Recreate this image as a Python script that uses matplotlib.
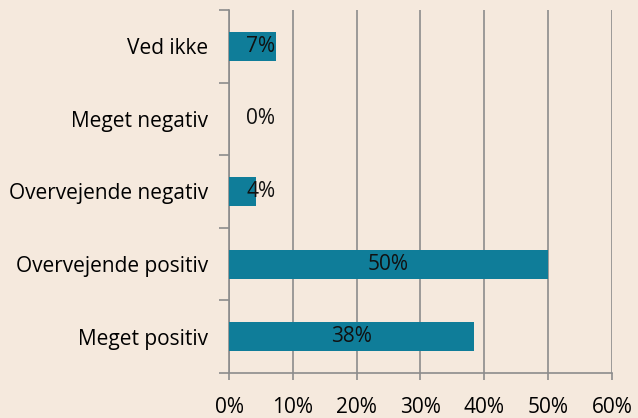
import matplotlib
matplotlib.use("Agg")
import matplotlib.pyplot as plt
from matplotlib.ticker import FixedLocator

categories = ["Meget positiv", "Overvejende positiv", "Overvejende negativ", "Meget negativ", "Ved ikke"]
values = [38.4, 50.0, 4.2, 0.0, 7.3]
labels = ["38%", "50%", "4%", "0%", "7%"]
xticks = [0, 10, 20, 30, 40, 50, 60]

bg = "#F5E9DD"
bar_c = "#0F7D99"
grid_c = "#8C8C8C"

plt.rcParams['font.family'] = ['Open Sans', 'DejaVu Sans']
fs = 15

fig = plt.figure(figsize=(6.38, 4.18), dpi=100, facecolor=bg)
ax = fig.add_axes([229/638, 1-373/418, (612-229)/638, (373-10)/418], facecolor=bg)

y = list(range(len(categories)))
ax.barh(y, values, height=0.4, color=bar_c, zorder=3)
for yi, v, lab in zip(y, values, labels):
    ax.text(max(v/2, 5.0), yi, lab, ha="center", va="center", fontsize=fs, color="#111111", zorder=4)

ax.set_xlim(0, 60)
ax.set_ylim(-0.5, len(categories)-0.5)
ax.set_xticks(xticks)
ax.set_xticklabels([f"{t}%" for t in xticks], fontsize=fs)
ax.set_yticks(y)
ax.set_yticklabels(categories, fontsize=fs)
ax.yaxis.set_minor_locator(FixedLocator([i+0.5 for i in range(-1, len(categories))]))
ax.tick_params(axis="y", which="major", length=0, pad=15)
ax.tick_params(axis="y", which="minor", length=7, color=grid_c, width=1.2)
ax.tick_params(axis="x", which="major", length=5, color=grid_c, width=1.2, pad=12)
ax.xaxis.grid(True, color=grid_c, linewidth=1.2, zorder=0)
for s in ["top", "right"]:
    ax.spines[s].set_visible(False)
for s in ["left", "bottom"]:
    ax.spines[s].set_color(grid_c)
    ax.spines[s].set_linewidth(1.2)

fig.savefig("out.png", dpi=100, facecolor=bg)
